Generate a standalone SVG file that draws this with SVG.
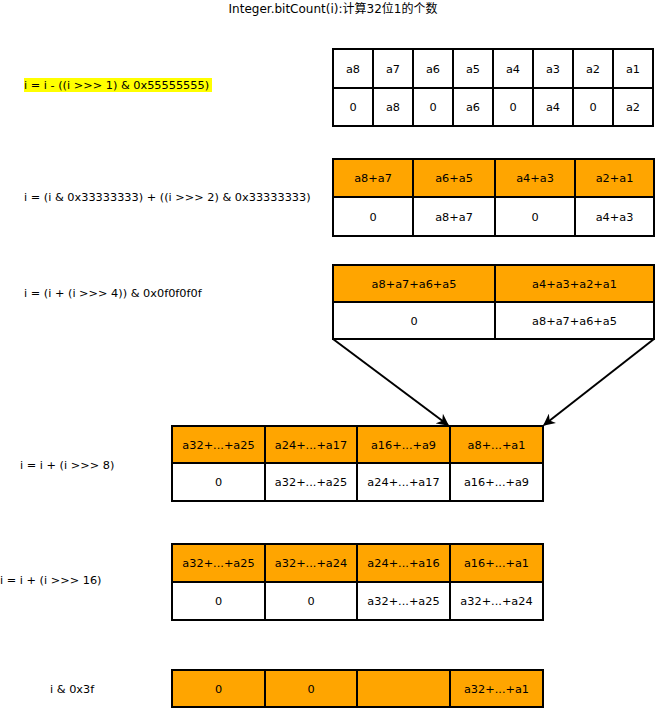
<svg xmlns="http://www.w3.org/2000/svg" width="657" height="708" viewBox="0 0 657 708">
<style>
text{font-family:Verdana,"DejaVu Sans","Noto Sans CJK SC",sans-serif;font-size:11.3px;fill:#000}
#title{font-size:12px}
.c{text-anchor:middle;dominant-baseline:central}
.l{dominant-baseline:central}
.w{fill:#fff;stroke:#000;stroke-width:2}
.o{fill:#ffa500;stroke:#000;stroke-width:2}
.edge{fill:none;stroke:#000;stroke-width:2}
</style>
<defs>
<marker id="arr" viewBox="0 0 10 10" refX="9" refY="5" markerWidth="13" markerHeight="12" markerUnits="userSpaceOnUse" orient="auto">
<path d="M0,0 L10,5 L0,10 L3,5 Z" fill="#000"/>
</marker>
</defs>
<rect width="657" height="708" fill="#fff"/>
<text id="title" class="c" x="333" y="9">Integer.bitCount(i):计算32位1的个数</text>

<g id="label1">
<rect x="24" y="78" width="188" height="14" fill="#ffff00"/>
<text class="l" x="24" y="85">i = i - ((i &gt;&gt;&gt; 1) &amp; 0x55555555)</text>
</g>
<g id="label2"><text class="l" x="24" y="197">i = (i &amp; 0x33333333) + ((i &gt;&gt;&gt; 2) &amp; 0x33333333)</text></g>
<g id="label3"><text class="l" x="24" y="293">i = (i + (i &gt;&gt;&gt; 4)) &amp; 0x0f0f0f0f</text></g>
<g id="label4"><text class="l" x="20" y="465">i = i + (i &gt;&gt;&gt; 8)</text></g>
<g id="label5"><text class="l" x="0" y="580">i = i + (i &gt;&gt;&gt; 16)</text></g>
<g id="label6"><text class="l" x="50" y="689">i &amp; 0x3f</text></g>

<g id="table1">
<rect class="w" x="333" y="49" width="40" height="39"/><text class="c" x="353" y="69">a8</text>
<rect class="w" x="373" y="49" width="40" height="39"/><text class="c" x="393" y="69">a7</text>
<rect class="w" x="413" y="49" width="40" height="39"/><text class="c" x="433" y="69">a6</text>
<rect class="w" x="453" y="49" width="40" height="39"/><text class="c" x="473" y="69">a5</text>
<rect class="w" x="493" y="49" width="40" height="39"/><text class="c" x="513" y="69">a4</text>
<rect class="w" x="533" y="49" width="40" height="39"/><text class="c" x="553" y="69">a3</text>
<rect class="w" x="573" y="49" width="40" height="39"/><text class="c" x="593" y="69">a2</text>
<rect class="w" x="613" y="49" width="40" height="39"/><text class="c" x="633" y="69">a1</text>
<rect class="w" x="333" y="88" width="40" height="38"/><text class="c" x="353" y="107">0</text>
<rect class="w" x="373" y="88" width="40" height="38"/><text class="c" x="393" y="107">a8</text>
<rect class="w" x="413" y="88" width="40" height="38"/><text class="c" x="433" y="107">0</text>
<rect class="w" x="453" y="88" width="40" height="38"/><text class="c" x="473" y="107">a6</text>
<rect class="w" x="493" y="88" width="40" height="38"/><text class="c" x="513" y="107">0</text>
<rect class="w" x="533" y="88" width="40" height="38"/><text class="c" x="553" y="107">a4</text>
<rect class="w" x="573" y="88" width="40" height="38"/><text class="c" x="593" y="107">0</text>
<rect class="w" x="613" y="88" width="40" height="38"/><text class="c" x="633" y="107">a2</text>
</g>

<g id="table2">
<rect class="o" x="333" y="159" width="80" height="38"/><text class="c" x="373" y="178">a8+a7</text>
<rect class="o" x="413" y="159" width="82" height="38"/><text class="c" x="454" y="178">a6+a5</text>
<rect class="o" x="495" y="159" width="80" height="38"/><text class="c" x="535" y="178">a4+a3</text>
<rect class="o" x="575" y="159" width="79" height="38"/><text class="c" x="614.5" y="178">a2+a1</text>
<rect class="w" x="333" y="197" width="80" height="39"/><text class="c" x="373" y="217">0</text>
<rect class="w" x="413" y="197" width="82" height="39"/><text class="c" x="454" y="217">a8+a7</text>
<rect class="w" x="495" y="197" width="80" height="39"/><text class="c" x="535" y="217">0</text>
<rect class="w" x="575" y="197" width="79" height="39"/><text class="c" x="614.5" y="217">a4+a3</text>
</g>

<g id="table3">
<rect class="o" x="333" y="265" width="162" height="37"/><text class="c" x="414" y="284">a8+a7+a6+a5</text>
<rect class="o" x="495" y="265" width="159" height="37"/><text class="c" x="574.5" y="284">a4+a3+a2+a1</text>
<rect class="w" x="333" y="302" width="162" height="37"/><text class="c" x="414" y="321">0</text>
<rect class="w" x="495" y="302" width="159" height="37"/><text class="c" x="574.5" y="321">a8+a7+a6+a5</text>
</g>

<g id="table4">
<rect class="o" x="172" y="426" width="93" height="37"/><text class="c" x="218.5" y="445">a32+...+a25</text>
<rect class="o" x="265" y="426" width="92" height="37"/><text class="c" x="311" y="445">a24+...+a17</text>
<rect class="o" x="357" y="426" width="93" height="37"/><text class="c" x="403.5" y="445">a16+...+a9</text>
<rect class="o" x="450" y="426" width="93" height="37"/><text class="c" x="496.5" y="445">a8+...+a1</text>
<rect class="w" x="172" y="463" width="93" height="38"/><text class="c" x="218.5" y="482">0</text>
<rect class="w" x="265" y="463" width="92" height="38"/><text class="c" x="311" y="482">a32+...+a25</text>
<rect class="w" x="357" y="463" width="93" height="38"/><text class="c" x="403.5" y="482">a24+...+a17</text>
<rect class="w" x="450" y="463" width="93" height="38"/><text class="c" x="496.5" y="482">a16+...+a9</text>
</g>

<g id="table5">
<rect class="o" x="172" y="544" width="93" height="38"/><text class="c" x="218.5" y="563">a32+...+a25</text>
<rect class="o" x="265" y="544" width="92" height="38"/><text class="c" x="311" y="563">a32+...+a24</text>
<rect class="o" x="357" y="544" width="93" height="38"/><text class="c" x="403.5" y="563">a24+...+a16</text>
<rect class="o" x="450" y="544" width="93" height="38"/><text class="c" x="496.5" y="563">a16+...+a1</text>
<rect class="w" x="172" y="582" width="93" height="38"/><text class="c" x="218.5" y="601">0</text>
<rect class="w" x="265" y="582" width="92" height="38"/><text class="c" x="311" y="601">0</text>
<rect class="w" x="357" y="582" width="93" height="38"/><text class="c" x="403.5" y="601">a32+...+a25</text>
<rect class="w" x="450" y="582" width="93" height="38"/><text class="c" x="496.5" y="601">a32+...+a24</text>
</g>

<g id="table6">
<rect class="o" x="172" y="670" width="93" height="37"/><text class="c" x="218.5" y="689">0</text>
<rect class="o" x="265" y="670" width="92" height="37"/><text class="c" x="311" y="689">0</text>
<rect class="o" x="357" y="670" width="93" height="37"/>
<rect class="o" x="450" y="670" width="93" height="37"/><text class="c" x="496.5" y="689">a32+...+a1</text>
</g>

<g id="connectors">
<path class="edge" d="M333,339 L448,425" marker-end="url(#arr)"/>
<path class="edge" d="M654,339 L544,425" marker-end="url(#arr)"/>
</g>
</svg>
